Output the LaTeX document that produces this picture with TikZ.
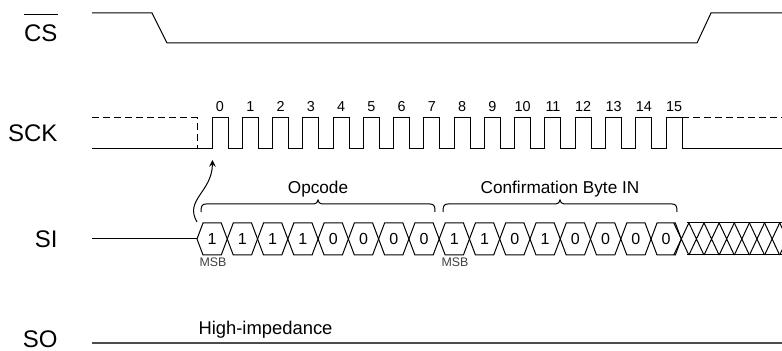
\documentclass[tikz,border=0pt]{standalone}
\usepackage{fontspec}
\setmainfont{Liberation Sans}
\begin{document}
\begin{tikzpicture}[>=stealth, x=0.5pt, y=-0.5pt, line width=0.5pt,
  tenhieu/.style={anchor=base east, inner sep=0pt, font=\fontsize{12}{14}\selectfont},
  chiso/.style={anchor=base, inner sep=0pt, font=\fontsize{7.2}{8}\selectfont},
  bit/.style={anchor=base, inner sep=0pt, font=\fontsize{8}{9}\selectfont},
  ghichu/.style={anchor=base, inner sep=0pt, font=\fontsize{8.6}{10}\selectfont},
  msb/.style={anchor=base, inner sep=0pt, font=\fontsize{6.2}{7}\selectfont, text=black!75}]
\useasboundingbox (0,0) rectangle (782,351);
% tên các tín hiệu
\node[tenhieu] (cs) at (58,42) {CS};
\draw ([yshift=5pt]cs.north west) -- ([yshift=5pt]cs.north east);
\node[tenhieu] (sck) at (58,142) {SCK};
\node[tenhieu] (si) at (58,248) {SI};
\node[tenhieu] (so) at (58,348) {SO};
% CS
\draw (92,13) -- (152,13) -- (167,43) -- (697,43) -- (711,13) -- (782,13);
% SCK
\draw[dash pattern=on 3.3pt off 2.2pt] (92,118) -- (197,118) -- (197,149);
\draw[dash pattern=on 3.3pt off 2.2pt] (682,118) -- (782,118);
\draw (92,149) \foreach \i in {0,...,15}{ -- ({212+30.27*\i},149) -- ++(0,-31) -- ++(16,0) -- ++(0,31)} -- (782,149);
\foreach \i in {0,...,15} \node[chiso] (n\i) at ({220+30.27*\i},112) {\i};
% SI
\draw (92,239) -- (197,239);
\foreach \v [count=\i from 0] in {1,1,1,1,0,0,0,0,1,1,0,1,0,0,0,0}{
  \pgfmathsetmacro\a{197+30.27*\i}
  \pgfmathsetmacro\b{\a+30.27}
  \draw (\a,239) -- (\a+6,223) -- (\b-6,223) -- (\b,239) -- (\b-6,255) -- (\a+6,255) -- cycle;
  \node[bit] (b\i) at ({\a+15.135},245) {\v};
}
\begin{scope}
\clip (600,200) rectangle (782,270);
\draw (687,223) -- (782,223) (687,255) -- (782,255);
\foreach \k in {0,...,7}{
  \pgfmathsetmacro\c{681.3+15.135*\k}
  \draw (\c-7.5,223) -- (\c+7.5,255) (\c-7.5,255) -- (\c+7.5,223);
}
\end{scope}
\node[msb] (msb0) at (213,267) {MSB};
\node[msb] (msb8) at (455,267) {MSB};
% ngoặc Opcode / Confirmation
\foreach \a/\b/\t/\ten in {201/435/Opcode/opcode, 443/677/Confirmation Byte IN/xacnhan}{
  \pgfmathsetmacro\m{(\a+\b)/2}
  \draw (\a,212) .. controls (\a,206) and (\a+1,204) .. (\a+5,204) -- (\m-4,204)
    .. controls (\m-2,204) and (\m,202) .. (\m,200) .. controls (\m,202) and (\m+2,204) .. (\m+4,204)
    -- (\b-5,204) .. controls (\b-1,204) and (\b,206) .. (\b,212);
  \node[ghichu] (\ten) at (\m,194) {\t};
}
% mũi tên từ bit đầu tới cạnh lên SCK
\coordinate (dau) at (197,222);
\coordinate (canh) at (212.5,160);
\draw[->] (dau) .. controls (184,200) and (212,192) .. (canh);
% SO
\draw[line width=1pt, black!70] (92,343) -- (782,343);
\node[anchor=base, inner sep=0pt, font=\fontsize{9.2}{11}\selectfont] (hiz) at (265.5,335) {High-impedance};
\end{tikzpicture}
\end{document}
